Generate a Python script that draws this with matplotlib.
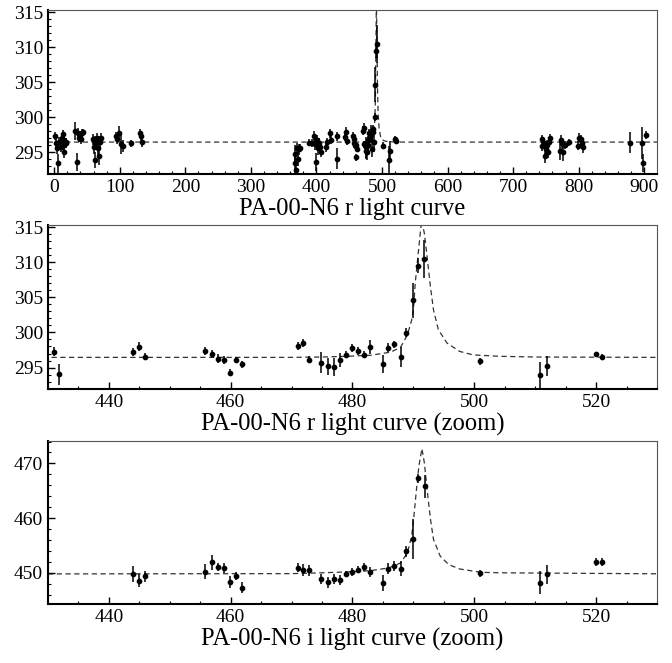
"""PA-00-N6 light curves: full r-band season plus zoomed r and i peaks."""
import matplotlib

matplotlib.use("Agg")
import matplotlib.pyplot as plt
from matplotlib.ticker import MultipleLocator

plt.rcParams["font.family"] = ["Liberation Serif", "DejaVu Serif"]

# r band, points only visible in the full-season panel
r_early_t = [1.0, 2.0, 4.6, 6.1, 7.6, 9.6, 11.1, 12.7, 13.7, 14.8, 15.3, 17.3, 18.3,
             31.5, 34.1, 35.6, 37.1, 38.7, 40.2, 41.7, 43.2,
             58.4, 60.0, 61.5, 62.5, 64.1, 65.6, 67.1, 68.6, 70.2, 71.7,
             93.6, 95.1, 99.2, 101.7, 104.2, 117.0, 130.7, 132.2, 133.7,
             366.6, 367.7, 368.7, 370.2, 371.7, 372.7, 374.2,
             389.0, 393.1, 396.2, 397.7, 399.2, 400.8, 401.7, 403.2, 404.7, 406.3,
             413.9, 416.5, 420.0, 421.5]
r_early_v = [297.3, 296.3, 295.6, 293.4, 296.5, 295.8, 297.0, 297.56, 296.75, 296.0, 295.1, 296.3, 296.5,
             298.0, 293.66, 297.7, 297.1, 297.5, 296.85, 297.7, 297.85,
             296.85, 295.8, 296.5, 293.9, 296.3, 297.0, 295.6, 294.4, 296.4, 297.1,
             297.3, 296.85, 297.7, 296.2, 295.9, 296.3, 297.7, 297.3, 296.5,
             294.76, 293.4, 292.5, 295.57, 294.0, 295.4, 295.57,
             296.37, 296.28, 297.37, 296.14, 293.66, 296.75, 295.57, 296.28, 295.8, 295.1,
             295.8, 296.5, 297.7, 296.75]
r_early_e = [0.6, 0.7, 0.8, 1.3, 0.7, 0.8, 0.7, 0.6, 0.7, 0.8, 0.9, 0.7, 0.6,
             1.3, 1.3, 0.7, 0.6, 0.6, 0.7, 0.6, 0.5,
             0.8, 1.0, 0.8, 1.2, 0.9, 0.8, 1.1, 1.2, 0.9, 0.6,
             0.6, 0.7, 1.0, 1.5, 0.9, 0.5, 0.6, 0.7, 0.8,
             1.3, 1.5, 1.0, 0.7, 1.0, 0.8, 0.6,
             0.5, 0.6, 0.7, 0.8, 1.3, 0.7, 0.9, 0.8, 0.8, 0.8,
             0.7, 0.6, 0.6, 0.6]

# r band around the peak (also in the zoom panel)
r_zoom_t = [431.0, 431.8, 444.0, 445.0, 445.9, 455.85, 456.9, 457.9, 458.9, 459.85,
            460.9, 461.9, 471.0, 471.8, 472.85, 474.9, 475.9, 476.9, 477.9, 479.0,
            480.0, 480.9, 481.9, 482.9, 485.0, 485.8, 486.8, 487.9, 488.85, 489.95,
            490.8, 491.76, 500.97, 510.8, 511.9, 519.9, 520.9]
r_zoom_v = [297.28, 294.06, 297.19, 297.95, 296.57, 297.33, 296.95, 296.28, 296.05, 294.29,
            296.1, 295.5, 298.09, 298.52, 296.12, 295.7, 295.2, 295.1, 296.05, 296.8,
            297.8, 297.38, 296.85, 297.9, 295.53, 297.85, 298.33, 296.48, 299.99, 304.6,
            309.49, 310.44, 295.9, 293.91, 295.24, 296.95, 296.57]
r_zoom_e = [0.62, 1.5, 0.6, 0.65, 0.5, 0.6, 0.5, 0.7, 0.6, 0.5,
            0.4, 0.5, 0.6, 0.6, 0.5, 1.54, 1.19, 1.26, 1.0, 0.5,
            0.55, 0.6, 0.5, 1.0, 1.26, 0.6, 0.5, 1.4, 0.6, 2.5,
            1.07, 2.73, 0.5, 1.95, 1.43, 0.3, 0.3]

# r band, following season
r_late_t = [743.4, 744.5, 746.5, 748.0, 749.5, 751.6, 752.6, 754.1, 755.6,
            770.9, 772.4, 774.5, 775.4, 778.5, 785.6,
            798.9, 800.9, 802.9, 805.0, 806.5, 878.7, 897.0, 898.0, 902.6]
r_late_v = [296.85, 295.9, 296.28, 294.4, 295.4, 296.04, 295.1, 296.5, 297.0,
            295.2, 296.75, 296.28, 295.1, 296.0, 296.42,
            295.95, 297.1, 296.85, 296.28, 295.8, 296.37, 296.37, 293.5, 297.46]
r_late_e = [0.6, 0.7, 0.7, 0.9, 0.8, 0.7, 0.9, 0.6, 0.6,
            1.3, 0.7, 0.8, 1.4, 0.6, 0.5,
            0.6, 0.6, 0.6, 0.7, 0.9, 1.5, 2.3, 1.3, 0.55]

# i band around the peak
i_t = [444.0, 445.0, 445.9, 455.85, 456.9, 457.9, 458.9, 459.85, 460.9, 461.9,
       471.0, 471.9, 472.85, 474.9, 475.9, 476.9, 477.9, 479.0, 480.0, 480.9,
       481.9, 482.9, 485.0, 485.8, 486.8, 487.9, 488.85, 489.95, 490.8, 491.9,
       500.97, 510.8, 511.9, 519.9, 520.9]
i_v = [449.76, 448.54, 449.4, 450.18, 451.9, 451.04, 450.86, 448.24, 449.4, 447.26,
       450.92, 450.5, 450.5, 448.82, 448.27, 448.87, 448.67, 449.8, 450.13, 450.6,
       451.04, 450.13, 448.17, 450.73, 451.22, 450.73, 453.9, 456.1, 467.25, 465.85,
       449.9, 448.2, 449.76, 452.0, 452.0]
i_e = [1.5, 1.2, 1.0, 1.4, 1.3, 0.8, 0.9, 1.1, 0.8, 1.0,
       0.8, 1.1, 1.0, 0.9, 1.0, 1.0, 0.9, 0.6, 0.7, 0.7,
       0.8, 0.9, 1.5, 1.0, 0.9, 1.4, 1.0, 3.66, 0.9, 2.1,
       0.6, 2.04, 1.74, 0.7, 0.7]

# fitted curves
fit_r_t = [-10, 430, 470, 475, 479, 483, 486.3, 487.9, 489.0, 489.7, 490.0, 490.3,
           490.9, 491.35, 491.8, 492.25, 492.8, 493.3, 494.1, 495.5, 497.6, 499.8,
           504.2, 510, 530, 920]
fit_r_v = [296.45, 296.45, 296.45, 296.5, 296.6, 296.75, 297.2, 297.9, 299.6, 301.7, 303.2, 307.0,
           312.2, 316.0, 314.1, 310.8, 306.5, 303.2, 300.4, 298.5, 297.3, 296.8,
           296.6, 296.5, 296.45, 296.45]
fit_i_t = [430, 470, 475, 480, 483, 486, 487.9, 489.0, 489.7, 490.0, 490.5, 490.9,
           491.4, 491.8, 492.25, 492.8, 493.3, 494.4, 495.8, 497.6, 501, 504.2, 530]
fit_i_v = [449.8, 449.85, 450.0, 450.2, 450.4, 450.9, 451.8, 453.6, 456.6, 459.4, 465.2, 469.5,
           472.7, 470.1, 465.2, 459.8, 456.1, 453.05, 451.5, 450.7, 450.1, 450.0, 449.82]

titles = ["PA-00-N6 r light curve",
          "PA-00-N6 r light curve (zoom)",
          "PA-00-N6 i light curve (zoom)"]


def _panel(ax, t, v, e, ft, fv, xlim, ylim, xmaj, xmin, ymaj, ymin, title):
    ax.plot(ft, fv, color="#333333", lw=0.9, ls=(0, (4.2, 2.8)), zorder=1)
    ax.errorbar(t, v, yerr=e, fmt="o", color="black", ms=3.1, elinewidth=1.1,
                capsize=0, zorder=2)
    ax.set_xlim(*xlim)
    ax.set_ylim(*ylim)
    ax.xaxis.set_major_locator(MultipleLocator(xmaj))
    ax.xaxis.set_minor_locator(MultipleLocator(xmin))
    ax.yaxis.set_major_locator(MultipleLocator(ymaj))
    ax.yaxis.set_minor_locator(MultipleLocator(ymin))
    ax.tick_params(which="both", direction="in", top=False, right=False,
                   labelsize=14, pad=3.5)
    ax.tick_params(which="major", length=5, width=1)
    ax.tick_params(which="minor", length=2.5, width=0.8)
    for side in ("left", "bottom"):
        ax.spines[side].set_linewidth(1.5)
    for side in ("top", "right"):
        ax.spines[side].set_linewidth(0.8)
        ax.spines[side].set_color("#555555")
    ax.set_xlabel(title, fontsize=17.7, labelpad=1.5)


fig = plt.figure(figsize=(6.72, 6.63), dpi=100)
ax1 = fig.add_axes([0.0714, 0.7376, 0.9063, 0.2474])
ax2 = fig.add_axes([0.0714, 0.4133, 0.9063, 0.2474])
ax3 = fig.add_axes([0.0714, 0.0890, 0.9063, 0.2459])

_panel(ax1, r_early_t + r_zoom_t + r_late_t, r_early_v + r_zoom_v + r_late_v,
       r_early_e + r_zoom_e + r_late_e, fit_r_t, fit_r_v,
       (-9.6, 919.5), (291.9, 315.3), 100, 20, 5, 1, titles[0])
_panel(ax2, r_zoom_t, r_zoom_v, r_zoom_e, fit_r_t, fit_r_v,
       (430, 530), (291.95, 315.3), 20, 5, 5, 1, titles[1])
_panel(ax3, i_t, i_v, i_e, fit_i_t, fit_i_v,
       (430, 530), (444.3, 474.1), 20, 5, 10, 2, titles[2])

fig.savefig("out.png", dpi=100)
